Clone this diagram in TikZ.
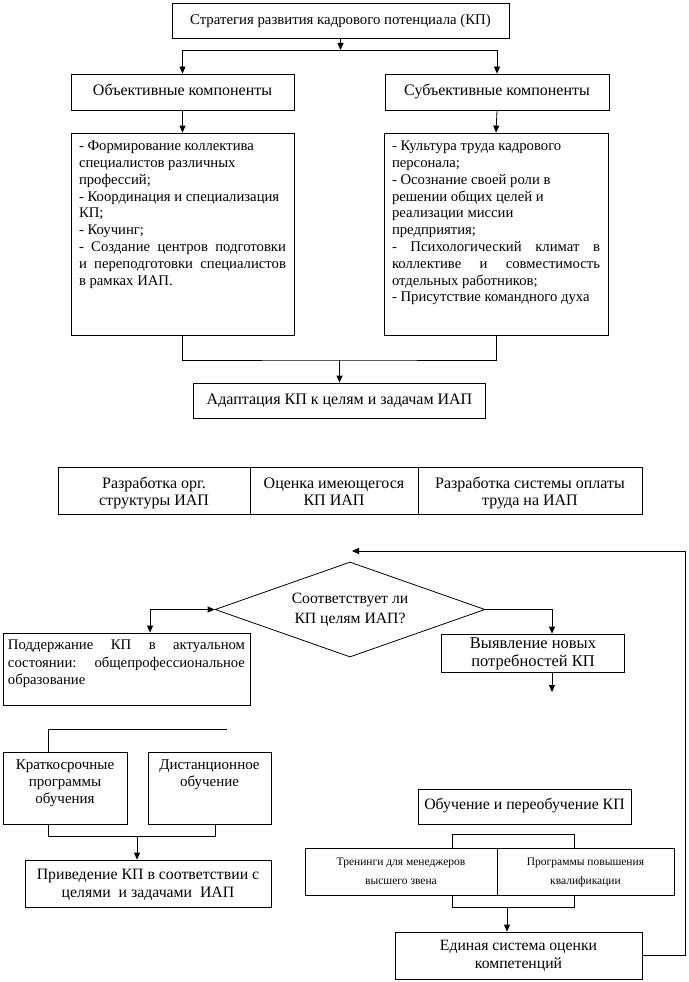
\documentclass[tikz,border=0pt]{standalone}
\usepackage{fontspec}
\setmainfont{Liberation Serif}
\usetikzlibrary{arrows.meta,shapes.geometric}
\newcommand\jl[1]{\makebox[\linewidth][s]{#1}}
\newcommand\tl[2]{\raisebox{-#1}[\height][\depth]{\begin{tabular}{@{}c@{}}#2\end{tabular}}}
\begin{document}
\begin{tikzpicture}[x=1pt,y=-1pt, line width=0.8pt,
 box/.style={draw, rectangle, inner sep=0pt, font=\fontsize{14}{17}\selectfont},
 arr/.style={-{Triangle[length=7pt,width=6pt]}},
 darr/.style={{Triangle[length=7pt,width=6pt]}-{Triangle[length=7pt,width=6pt]}},
]
\useasboundingbox (0,0) rectangle (688,982);
% top part
\node[box, minimum width=337, minimum height=35, font=\fontsize{14.8}{17}\selectfont] (top) at (340.5,20.5) {\tl{1pt}{Стратегия развития кадрового потенциала (КП)}};
\node[box, minimum width=223, minimum height=36, font=\fontsize{16}{17}\selectfont] (obj) at (182.5,92) {\tl{0pt}{Объективные компоненты}};
\node[box, minimum width=224, minimum height=36, font=\fontsize{16}{17}\selectfont] (subj) at (497,92) {\tl{0pt}{Субъективные компоненты}};
\node[box, minimum width=223, minimum height=202] (objl) at (182.5,234) {\parbox[c][186pt][t]{207pt}{\fontsize{14.7}{16.8}\selectfont\raggedright
- Формирование коллектива\\
специалистов различных\\
профессий;\\
- Координация и специализация\\
КП;\\
- Коучинг;\\
\jl{- Создание центров подготовки}\\
\jl{и переподготовки специалистов}\\
в рамках ИАП.}};
\node[box, minimum width=224, minimum height=202] (subjl) at (496,234) {\parbox[c][186pt][t]{208pt}{\fontsize{14.7}{16.8}\selectfont\raggedright
- Культура труда кадрового\\
персонала;\\
- Осознание своей роли в\\
решении общих целей и\\
реализации миссии\\
предприятия;\\
\jl{- Психологический климат в}\\
\jl{коллективе и совместимость}\\
отдельных работников;\\
- Присутствие командного духа}};
\node[box, minimum width=292, minimum height=35, font=\fontsize{16}{18}\selectfont] (adapt) at (339.5,400.5) {\tl{0pt}{Адаптация КП к целям и задачам ИАП}};
\coordinate (j1) at (340.5,50);
\coordinate (j2) at (339.5,360);
\draw[arr] (top.south) -- (j1);
\draw[arr] (j1) -| (obj.north);
\draw[arr] (j1) -| (subj.north);
\draw[arr] (obj.south) -- (objl.north);
\draw[arr] (subj.south) -- (subjl.north);
\draw (objl.south) |- (j2) -| (subjl.south);
\draw[arr] (j2) -- (adapt.north);
% row of three
\node[box, minimum width=192, minimum height=47, font=\fontsize{16}{17}\selectfont] (r1) at (154,490.5) {\tl{3pt}{Разработка орг.\\структуры ИАП}};
\node[box, minimum width=168, minimum height=47, font=\fontsize{16}{17}\selectfont] (r2) at (334,490.5) {\tl{3pt}{Оценка имеющегося\\КП ИАП}};
\node[box, minimum width=224, minimum height=47, font=\fontsize{16}{17}\selectfont] (r3) at (530,490.5) {\tl{3pt}{Разработка системы оплаты\\труда на ИАП}};
% decision
\node[draw, diamond, shape aspect=2.86, minimum width=270, minimum height=95, inner sep=0pt, font=\fontsize{15.7}{20}\selectfont] (dia) at (350,609.5) {\tl{0pt}{Соответствует ли\\КП целям ИАП?}};
\node[box, minimum width=247, minimum height=72] (supp) at (126.5,669) {\parbox[c][58pt][t]{237pt}{\fontsize{14.7}{17.5}\selectfont\raggedright
\jl{Поддержание КП в актуальном}\\
\jl{состоянии: общепрофессиональное}\\
образование}};
\node[box, minimum width=183, minimum height=38, font=\fontsize{16.5}{18}\selectfont] (need) at (533,653) {\tl{1pt}{Выявление новых\\потребностей КП}};
\coordinate (cl) at (150,620);
\coordinate (cr) at (552,620);
\coordinate (nd) at (552,692);
\draw[darr] (supp.north -| cl) |- (dia.west);
\draw[arr] (dia.east) -| (need.north -| cr);
\draw[arr] (need.south -| cr) -- (nd);
% left branch
\node[box, minimum width=124, minimum height=72] (short) at (65,788) {\parbox[c][56pt][t]{118pt}{\centering\fontsize{15}{17}\selectfont Краткосрочные\\программы\\обучения}};
\node[box, minimum width=123, minimum height=72] (dist) at (209.5,788) {\parbox[c][56pt][t]{118pt}{\centering\fontsize{15}{17}\selectfont Дистанционное\\обучение}};
\coordinate (lt) at (227,729);
\coordinate (lb) at (48,836);
\coordinate (lbr) at (215,836);
\coordinate (lbm) at (137,836);
\draw (short.north -| lb) |- (lt);
\draw (short.south -| lb) -- (lb) -- (lbr) -- (dist.south -| lbr);
\node[box, minimum width=246, minimum height=47, font=\fontsize{15.8}{18}\selectfont] (bring) at (148,883.5) {\tl{1pt}{Приведение КП в соответствии с\\целями~ и задачами~ ИАП}};
\draw[arr] (lbm) -- (bring.north -| lbm);
% right branch
\node[box, minimum width=213, minimum height=35, font=\fontsize{15.8}{17}\selectfont] (train) at (524.5,806.5) {\tl{0pt}{Обучение и переобучение КП}};
\node[box, minimum width=192, minimum height=47, font=\fontsize{11.5}{19}\selectfont] (tr1) at (401,871.5) {\tl{0pt}{Тренинги для менеджеров\\высшего звена}};
\node[box, minimum width=177, minimum height=47, font=\fontsize{11.5}{19}\selectfont] (tr2) at (585.5,871.5) {\tl{0pt}{Программы повышения\\квалификации}};
\coordinate (rt1) at (452,834);
\coordinate (rt2) at (574,834);
\coordinate (rb1) at (452,907);
\coordinate (rb2) at (574,907);
\coordinate (rbm) at (507,907);
\draw (tr1.north -| rt1) -- (rt1) -- (rt2) -- (tr2.north -| rt2);
\draw (tr1.south -| rb1) -- (rb1) -- (rb2) -- (tr2.south -| rb2);
\node[box, minimum width=247, minimum height=47, font=\fontsize{15.7}{18}\selectfont] (uni) at (518.5,955.5) {\tl{0pt}{Единая система оценки\\компетенций}};
\draw[arr] (rbm) -- (uni.north -| rbm);
% feedback
\coordinate (fb) at (685,551);
\coordinate (fe) at (352,551);
\draw[arr] (uni.east) -| (fb) -- (fe);
\end{tikzpicture}
\end{document}
